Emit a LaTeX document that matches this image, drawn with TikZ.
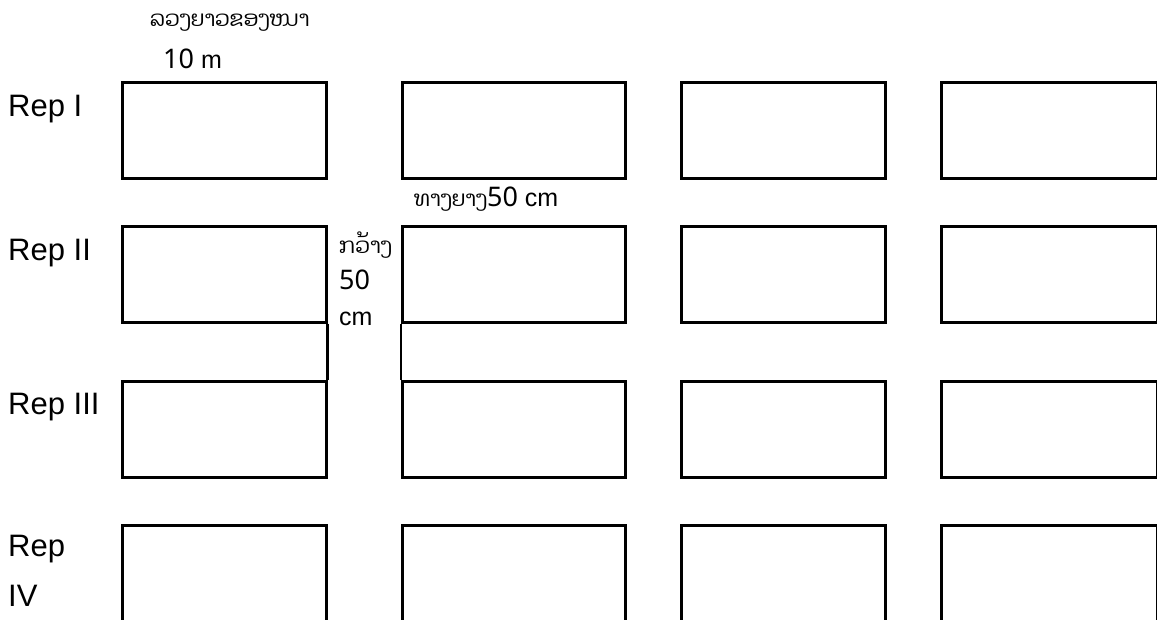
\documentclass[tikz,border=0pt]{standalone}
\usepackage{fontspec}
\setmainfont{Liberation Sans}
\newfontfamily\laofont[Script=Lao,Scale=0.86]{Dhyana}
\newfontfamily\digitfont[Scale=1.08]{Noto Sans}
\begin{document}
\begin{tikzpicture}[x=1pt, y=-1pt,
    plotbox/.style={rectangle, draw=black, line width=2.6pt, minimum height=96pt, inner sep=0pt, anchor=north west},
    replabel/.style={anchor=west, inner sep=0pt, font=\fontsize{31}{50}\selectfont, align=left},
    dimlabel/.style={anchor=west, inner sep=0pt, font=\fontsize{25}{36}\selectfont, align=left},
    edge/.style={line width=2.6pt, draw=black}]
\useasboundingbox (0,0) rectangle (1157,619);
\clip (0,0) rectangle (1157,619);

\foreach \r/\y in {1/81,2/225,3/380,4/524}
  \foreach \c/\x/\w in {1/121/204,2/401/223,3/680/204,4/940/216}
    \node [plotbox, minimum width=\w pt] (plot\r\c) at (\x,\y) {};

\node [replabel] (rep1) at (8,109) {Rep I};
\node [replabel] (rep2) at (8,253) {Rep II};
\node [replabel] (rep3) at (8,407) {Rep III};
\node [replabel] (rep4) at (8,571) {Rep\\IV};

\node [dimlabel] (lenlabel) at (150,23) {\laofont ລວງຍາວຂອງໜາ};
\node [dimlabel] (lenval) at (163,59) {{\digitfont 10} m};
\node [dimlabel] (pathlabel) at (414,199) {{\laofont ທາງຍາງ}{\digitfont 50} cm};
\node [dimlabel] (gaplabel) at (339,279) {{\laofont ກວ້າງ}\\{\digitfont 50}\\cm};

\draw [edge] (plot21.south east) -- (plot31.north east);
\draw [edge] (plot22.south west) -- (plot32.north west);

\end{tikzpicture}
\end{document}
